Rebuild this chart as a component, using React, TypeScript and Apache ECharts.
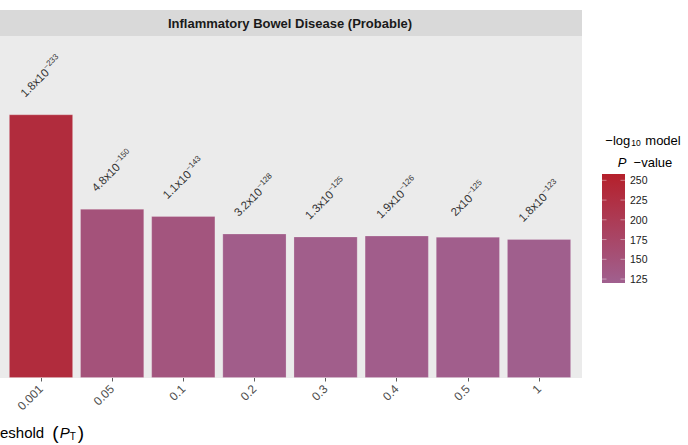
import React, { useEffect, useRef } from "react";
import * as echarts from "echarts";

const thresholds = ["0.001", "0.05", "0.1", "0.2", "0.3", "0.4", "0.5", "1"];
const pMantissa = [1.8, 4.8, 1.1, 3.2, 1.3, 1.9, 2, 1.8];
const pExponent = [-233, -150, -143, -128, -125, -126, -125, -123];
const legendTicks = [125, 150, 175, 200, 225, 250];
const colorMin = 120;
const colorMax = 258;
const yMax = 302;
const lowColor = "#a0608f";
const highColor = "#b5202b";

const FONT = "Liberation Sans, Arial, Helvetica, sans-serif";

export default function App() {
  const ref = useRef<HTMLDivElement>(null);
  useEffect(() => {
    if (!ref.current) return;
    const chart = echarts.init(ref.current, null, { renderer: "svg" });
    const heights = pMantissa.map((m, i) => -(Math.log10(m) + pExponent[i]));

    const legX = 602, legY = 174, legW = 23, legH = 109;
    const valToY = (v: number) => legY + legH - ((v - colorMin) / (colorMax - colorMin)) * legH;

    const legendEls: any[] = [
      {
        type: "rect",
        shape: { x: legX, y: legY, width: legW, height: legH },
        style: {
          fill: new echarts.graphic.LinearGradient(0, 0, 0, 1, [
            { offset: 0, color: highColor },
            { offset: 1, color: lowColor },
          ]),
        },
      },
    ];
    legendTicks.forEach((t) => {
      const y = valToY(t);
      legendEls.push({
        type: "line",
        shape: { x1: legX, y1: y, x2: legX + 4.5, y2: y },
        style: { stroke: "rgba(255,255,255,0.7)", lineWidth: 0.6 },
      });
      legendEls.push({
        type: "line",
        shape: { x1: legX + legW - 4.5, y1: y, x2: legX + legW, y2: y },
        style: { stroke: "rgba(255,255,255,0.7)", lineWidth: 0.6 },
      });
      legendEls.push({
        type: "text",
        x: legX + legW + 5,
        y,
        style: {
          text: String(t),
          fontSize: 10.5,
          fontFamily: FONT,
          fill: "#1a1a1a",
          verticalAlign: "middle",
          align: "left",
        },
      });
    });

    chart.setOption({
      animation: false,
      textStyle: { fontFamily: FONT },
      grid: { left: 5.43, right: 113.4, top: 36, bottom: 67, containLabel: false },
      xAxis: {
        type: "category",
        data: thresholds,
        axisLine: { show: false },
        axisTick: { show: true, alignWithLabel: true, length: 3.5, lineStyle: { color: "#333333", width: 0.8 } },
        axisLabel: { rotate: 45, fontSize: 12, color: "#4d4d4d", margin: 9, interval: 0 },
        splitLine: { show: false },
      },
      yAxis: {
        type: "value",
        min: 0,
        max: yMax,
        show: false,
        splitLine: { show: false },
      },
      visualMap: {
        show: false,
        type: "continuous",
        min: colorMin,
        max: colorMax,
        dimension: 1,
        inRange: { color: [lowColor, highColor] },
      },
      graphic: [
        {
          type: "rect",
          z: -10,
          silent: true,
          shape: { x: -2, y: 36, width: 584, height: 342 },
          style: { fill: "#ebebeb" },
        },
        {
          type: "rect",
          z: -10,
          silent: true,
          shape: { x: -2, y: 10, width: 584, height: 26 },
          style: { fill: "#d9d9d9" },
        },
        {
          type: "text",
          x: 290,
          y: 23,
          style: {
            text: "Inflammatory Bowel Disease (Probable)",
            fontSize: 13,
            fontWeight: "bold",
            fontFamily: FONT,
            fill: "#1a1a1a",
            align: "center",
            verticalAlign: "middle",
          },
        },
        {
          type: "text",
          x: 0,
          y: 432,
          style: {
            text: "{n|eshold }{p|(}{i|P}{s|T}{p|)}",
            verticalAlign: "middle",
            align: "left",
            rich: {
              n: { fontSize: 15, fontFamily: FONT, fill: "#000", padding: [0, 4, 0, 0] },
              p: { fontSize: 19, fontFamily: FONT, fill: "#000" },
              i: { fontSize: 15, fontFamily: FONT, fontStyle: "italic", fill: "#000", padding: [0, 0, 0, 1] },
              s: { fontSize: 10, fontFamily: FONT, fill: "#000", verticalAlign: "bottom", padding: [7, 2, 0, 0] },
            },
          },
        },
        {
          type: "text",
          x: 643,
          y: 140,
          style: {
            text: "{n|−log}{s|10}{n| model}",
            align: "center",
            verticalAlign: "middle",
            rich: {
              n: { fontSize: 13, fontFamily: FONT, fill: "#000" },
              s: { fontSize: 8.5, fontFamily: FONT, fill: "#000", padding: [5, 1, 0, 1] },
            },
          },
        },
        {
          type: "text",
          x: 645,
          y: 162,
          style: {
            text: "{i|P}{n|  −value}",
            align: "center",
            verticalAlign: "middle",
            rich: {
              n: { fontSize: 13, fontFamily: FONT, fill: "#000" },
              i: { fontSize: 13, fontFamily: FONT, fontStyle: "italic", fill: "#000" },
            },
          },
        },
        ...legendEls,
      ],
      series: [
        {
          type: "bar",
          data: heights,
          barCategoryGap: "10%",
          itemStyle: { borderColor: "rgba(255,255,255,0.25)", borderWidth: 0.8 },
          label: {
            show: true,
            position: "top",
            distance: 38,
            rotate: 45,
            align: "center",
            verticalAlign: "middle",
            formatter: (p: any) => `{m|${pMantissa[p.dataIndex]}x10}{s|−${-pExponent[p.dataIndex]}}`,
            rich: {
              m: { fontSize: 11.5, color: "#333333", fontFamily: FONT },
              s: { fontSize: 8, color: "#333333", fontFamily: FONT, verticalAlign: "top", padding: [0, 0, 7, 0] },
            },
          },
        },
      ],
    });
    return () => chart.dispose();
  }, []);
  return <div ref={ref} style={{ width: 688, height: 445, position: "absolute", left: 0, top: 0 }} />;
}
